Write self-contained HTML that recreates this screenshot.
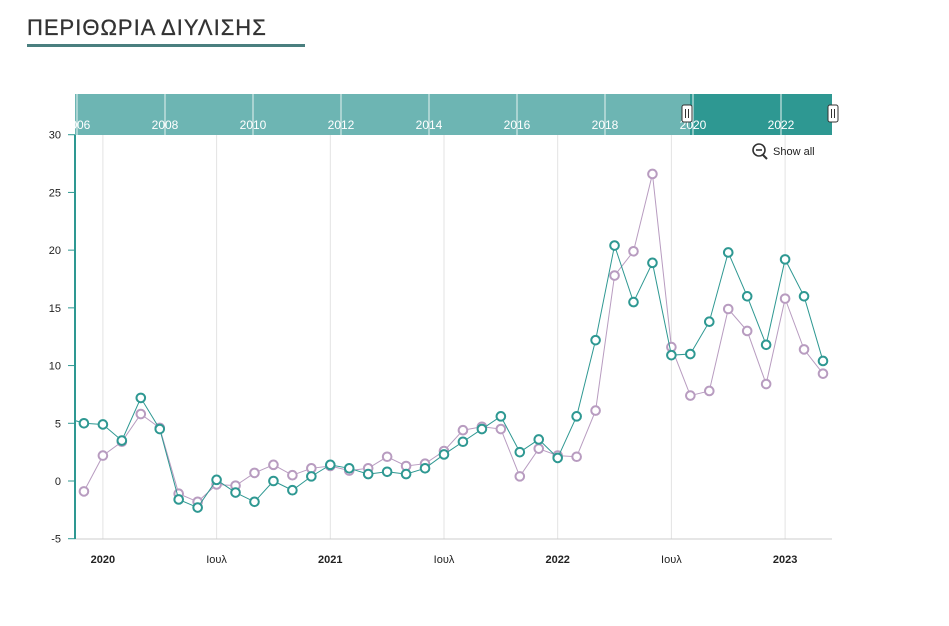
<!DOCTYPE html>
<html><head><meta charset="utf-8"><style>
body{margin:0;background:#fff;width:949px;height:621px;overflow:hidden;font-family:"Liberation Sans","DejaVu Sans",sans-serif}
</style></head><body>
<svg width="949" height="621">
<text x="27" y="35" font-size="22" letter-spacing="1" fill="#333" stroke="#333" stroke-width="0.3">ΠΕΡΙΘΩΡΙΑ ΔΙΥΛΙΣΗΣ</text>
<rect x="27" y="44" width="278" height="3" fill="#4a7f7f"/>
<g id="nav"></g>
<g id="grid"></g>
<g id="axes"></g>
<defs><clipPath id="clip"><rect x="75" y="130" width="760" height="415"/></clipPath></defs>
<g id="series" clip-path="url(#clip)"></g>
<g>
<circle cx="759" cy="150" r="6" fill="none" stroke="#333" stroke-width="1.6"/>
<line x1="756" y1="150" x2="762" y2="150" stroke="#333" stroke-width="1.6"/>
<line x1="763" y1="155" x2="767" y2="159" stroke="#333" stroke-width="2"/>
<text x="773" y="155" font-size="11" fill="#222">Show all</text>
</g>
</svg>
<script>
const teal=[5.5,5.0,4.9,3.5,7.2,4.5,-1.6,-2.3,0.1,-1.0,-1.8,0.0,-0.8,0.4,1.4,1.1,0.6,0.8,0.6,1.1,2.3,3.4,4.5,5.6,2.5,3.6,2.0,5.6,12.2,20.4,15.5,18.9,10.9,11.0,13.8,19.8,16.0,11.8,19.2,16.0,10.4];
const purple=[null,-0.9,2.2,3.4,5.8,4.6,-1.1,-1.8,-0.3,-0.4,0.7,1.4,0.5,1.1,1.3,0.9,1.1,2.1,1.3,1.5,2.6,4.4,4.7,4.5,0.4,2.8,2.2,2.1,6.1,17.8,19.9,26.6,11.6,7.4,7.8,14.9,13.0,8.4,15.8,11.4,9.3];
const yTicks=[30,25,20,15,10,5,0,-5];
const xLabels=[["2020",true],["Ιουλ",false],["2021",true],["Ιουλ",false],["2022",true],["Ιουλ",false],["2023",true]];
const navYears=[2006,2008,2010,2012,2014,2016,2018,2020,2022];
const NS="http://www.w3.org/2000/svg";
function mk(p,t,a){const e=document.createElementNS(NS,t);for(const k in a)e.setAttribute(k,a[k]);p.appendChild(e);return e;}
// index 0 = Nov 2019
const x=i=>65+i*18.95;
const y=v=>481-v*11.543;
const nx=yr=>77+(yr-2006)*44;
const nav=document.getElementById('nav');
mk(nav,'rect',{x:75,y:94,width:757,height:41,fill:'#6db5b3'});
mk(nav,'rect',{x:690,y:94,width:142,height:41,fill:'#2e9892'});
navYears.forEach(yr=>{mk(nav,'line',{x1:nx(yr),y1:94,x2:nx(yr),y2:135,stroke:'#e8f3f2','stroke-width':1});
const t=mk(nav,'text',{x:nx(yr),y:129,'font-size':12,fill:'#fff','text-anchor':'middle'});t.textContent=yr;

});
[687,833].forEach(hx=>{const h=mk(nav,'rect',{x:hx-5,y:105,width:10,height:17,rx:2,fill:'#fff',stroke:'#333'});


mk(nav,'line',{x1:hx-1.5,y1:109,x2:hx-1.5,y2:118,stroke:'#333'});mk(nav,'line',{x1:hx+1.5,y1:109,x2:hx+1.5,y2:118,stroke:'#333'});});
const grid=document.getElementById('grid'),axes=document.getElementById('axes');
xLabels.forEach((l,k)=>{const gx=x(2+k*6);mk(grid,'line',{x1:gx,y1:135,x2:gx,y2:539,stroke:'#e3e3e3'});
const t=mk(axes,'text',{x:gx,y:563,'font-size':11,fill:'#222','text-anchor':'middle','font-weight':l[1]?'bold':'normal'});t.textContent=l[0];

});
mk(axes,'line',{x1:75,y1:539,x2:832,y2:539,stroke:'#ccc'});
mk(axes,'line',{x1:75,y1:135,x2:75,y2:539,stroke:'#2e9892','stroke-width':2});
yTicks.forEach(v=>{mk(axes,'line',{x1:68,y1:y(v),x2:75,y2:y(v),stroke:'#2e9892'});
const t=mk(axes,'text',{x:61,y:y(v)+4,'font-size':11,fill:'#222','text-anchor':'end'});t.textContent=v;

});
const ser=document.getElementById('series');
function draw(data,col,name){let d='';data.forEach((v,i)=>{if(v==null)return;d+=(d?'L':'M')+x(i)+','+y(v);});
const p=mk(ser,'path',{d:d,fill:'none',stroke:col,'stroke-width':1});


data.forEach((v,i)=>{if(v==null)return;const c=mk(ser,'circle',{cx:x(i),cy:y(v),r:4.3,fill:'#fff',stroke:col,'stroke-width':2});

});}
draw(purple,'#b89cc0','purple-series');
draw(teal,'#2e9892','teal-series');
</script>
</body></html>
